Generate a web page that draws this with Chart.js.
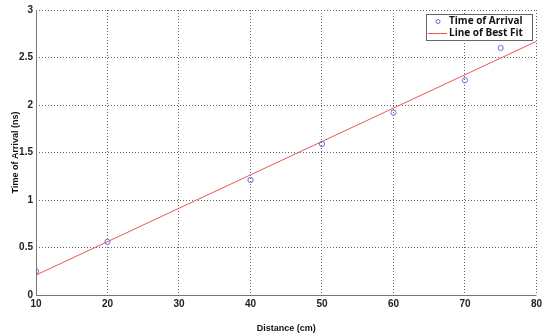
<!DOCTYPE html>
<html>
<head>
<meta charset="utf-8">
<script src="https://cdn.jsdelivr.net/npm/chart.js@4"></script>
<style>
  html, body { margin: 0; padding: 0; background: #fff; }
  #wrap { width: 545px; height: 334px; }
</style>
</head>
<body>
<div id="wrap"><canvas id="myChart"></canvas></div>
<script>
// measured points
const distance = [10, 20, 40, 50, 60, 70, 75];
const arrival = [0.25, 0.56, 1.21, 1.59, 1.92, 2.26, 2.6];
// best fit line ends
const fitX = [10, 80];
const fitY = [0.21, 2.67];
const xTicks = [10, 20, 30, 40, 50, 60, 70, 80];
const yTicks = [0, 0.5, 1, 1.5, 2, 2.5, 3];

const tickFont = { family: 'Liberation Sans, Arial, sans-serif', size: 10, weight: 'bold' };
const titleFont = { family: 'Liberation Sans, Arial, sans-serif', size: 9, weight: 'bold' };

// solid left/bottom axis lines + legend box in the top right corner, like matlab
const boxLegend = {
  id: 'boxLegend',
  afterDraw(chart) {
    const ctx = chart.ctx;
    const area = chart.chartArea;
    ctx.save();
    ctx.strokeStyle = '#777';
    ctx.lineWidth = 1;
    ctx.beginPath();
    ctx.moveTo(Math.round(area.left) + 0.5, area.top);
    ctx.lineTo(Math.round(area.left) + 0.5, Math.round(area.bottom) + 0.5);
    ctx.lineTo(area.right, Math.round(area.bottom) + 0.5);
    ctx.stroke();

    const w = 107, h = 27;
    const x = Math.round(area.right) - 110, y = Math.round(area.top) + 4;
    ctx.fillStyle = '#fff';
    ctx.fillRect(x, y, w, h);
    ctx.strokeStyle = '#666';
    ctx.strokeRect(x + 0.5, y + 0.5, w - 1, h - 1);
    ctx.font = 'bold 10px "Open Sans", sans-serif';
    ctx.fillStyle = '#111';
    ctx.textBaseline = 'middle';
    const ds = chart.data.datasets;
    ctx.strokeStyle = ds[0].borderColor;
    ctx.beginPath();
    ctx.arc(x + 12, y + 7.5, 2, 0, Math.PI * 2);
    ctx.stroke();
    ctx.fillText(ds[0].label, x + 23, y + 7.5);
    ctx.strokeStyle = ds[1].borderColor;
    ctx.beginPath();
    ctx.moveTo(x + 2, y + 19.5);
    ctx.lineTo(x + 21, y + 19.5);
    ctx.stroke();
    ctx.fillText(ds[1].label, x + 23, y + 19.5);
    ctx.restore();
  }
};

new Chart(document.getElementById('myChart'), {
  type: 'scatter',
  data: {
    datasets: [{
      label: 'Time of Arrival',
      data: distance.map((d, i) => ({ x: d, y: arrival[i] })),
      borderColor: '#6a6ae0',
      backgroundColor: 'rgba(0,0,0,0)',
      borderWidth: 1,
      pointRadius: 2.6,
      showLine: false
    }, {
      label: 'Line of Best Fit',
      type: 'line',
      data: fitX.map((d, i) => ({ x: d, y: fitY[i] })),
      borderColor: '#ee5555',
      borderWidth: 1,
      pointRadius: 0,
      fill: false
    }]
  },
  options: {
    responsive: true,
    maintainAspectRatio: false,
    animation: false,
    layout: { padding: { top: 10, right: 4, left: 0, bottom: 0 } },
    plugins: {
      legend: { display: false },
      tooltip: { enabled: false }
    },
    scales: {
      x: {
        type: 'linear',
        min: 10,
        max: 80,
        afterBuildTicks: s => { s.ticks = xTicks.map(v => ({ value: v })); },
        afterFit: s => { s.height = 39; },
        ticks: { font: tickFont, color: '#222', padding: 3, maxRotation: 0, callback: v => String(v) },
        grid: { color: '#666', drawTicks: false },
        border: { display: false, dash: [1, 2] },
        title: { display: true, text: 'Distance (cm)', font: titleFont, color: '#111', padding: { top: 4, bottom: 0 } }
      },
      y: {
        min: 0,
        max: 3,
        afterBuildTicks: s => { s.ticks = yTicks.map(v => ({ value: v })); },
        afterFit: s => { s.width = 36; },
        ticks: { font: tickFont, color: '#222', padding: 3, callback: v => String(v) },
        grid: { color: '#666', drawTicks: false },
        border: { display: false, dash: [1, 2] },
        title: { display: true, text: 'Time of Arrival (ns)', font: titleFont, color: '#111', padding: { top: 10, bottom: 2 } }
      }
    }
  },
  plugins: [boxLegend]
});
</script>
</body>
</html>
